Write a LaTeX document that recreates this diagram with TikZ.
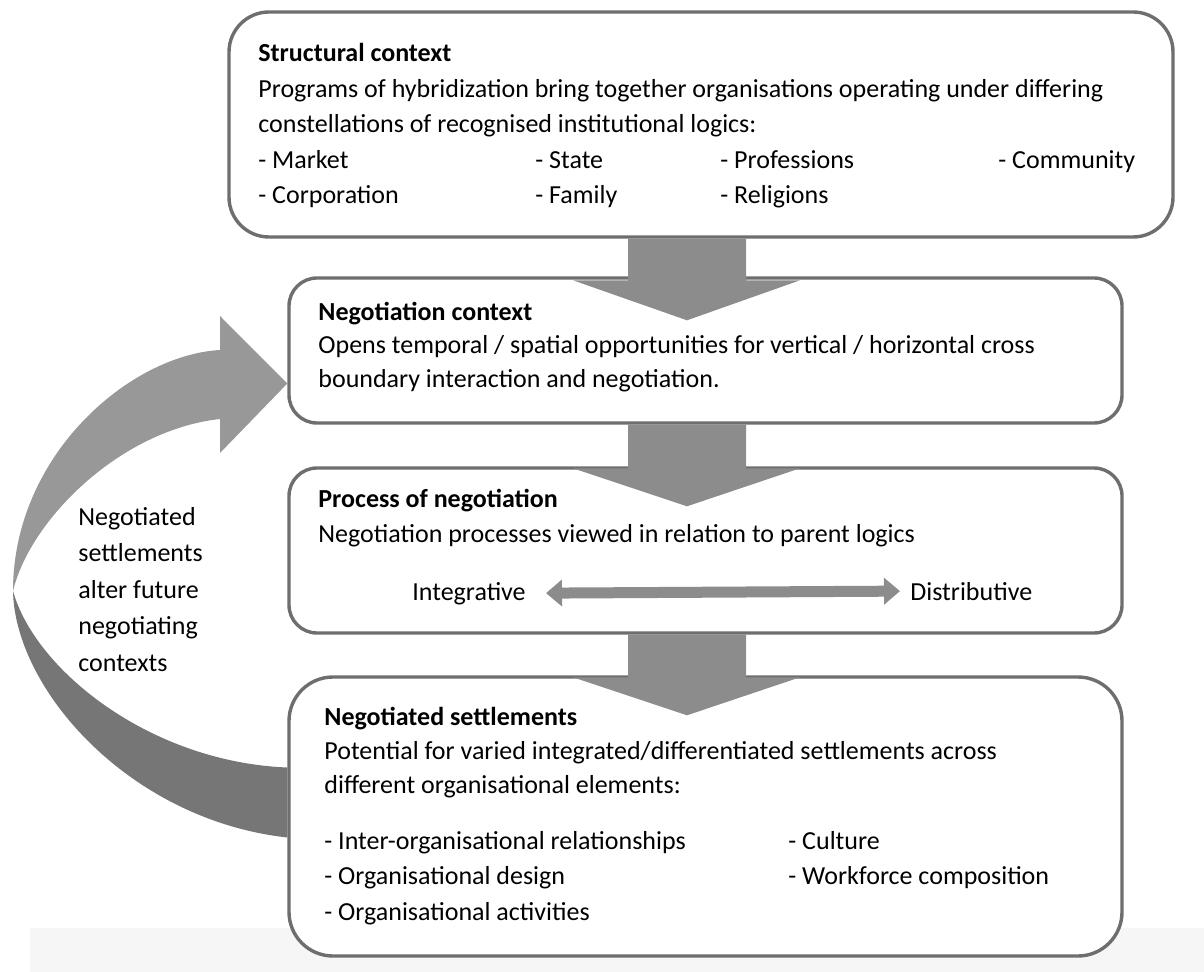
\documentclass[tikz,border=0pt]{standalone}
\usepackage{fontspec}
\setmainfont{Carlito}
\usepackage{xcolor}
\definecolor{boxgray}{RGB}{110,110,110}
\definecolor{arrowgray}{RGB}{140,140,140}
\definecolor{lightribbon}{RGB}{152,152,152}
\definecolor{darkribbon}{RGB}{118,118,118}
\definecolor{shadowgray}{RGB}{246,246,246}
\usetikzlibrary{positioning, calc, arrows.meta}
\tikzstyle{Box} = [
draw=boxgray,
line width=1.7pt,
fill=white,
rounded corners=14pt,
inner sep=0pt]
\tikzstyle{Txt} = [
anchor=base west,
inner sep=0pt,
align=left,
font=\fontsize{13}{17.75}\selectfont]
\tikzstyle{Title} = [Txt, font=\fontsize{13}{17.75}\selectfont\bfseries]
\tikzstyle{BlockArrow} = [fill=arrowgray]
\tikzstyle{ArrowBoth} = [
arrowgray,
line width=5.5pt,
{Triangle[length=8pt, width=13pt]}-{Triangle[length=8pt, width=13pt]}]

\begin{document}
\begin{tikzpicture}[x=0.5pt, y=-0.5pt]
    \useasboundingbox (0,0) rectangle (1204,972);
    \fill[shadowgray] (30,928) rectangle (1204,972);

    \node [Box, rounded corners=20pt, minimum width=472pt, minimum height=112.5pt] (sc) at (701,124.5) {};
    \node [Box, minimum width=416.5pt, minimum height=72.5pt] (nc) at (705.5,350.5) {};
    \node [Box, minimum width=416.5pt, minimum height=82.5pt] (pn) at (705.5,550.5) {};
    \node [Box, rounded corners=22pt, minimum width=416.5pt, minimum height=139.5pt] (ns) at (705.5,816.5) {};

    \coordinate (axis) at (687,0);
    \fill[BlockArrow] ($(sc.south -| axis)+(-59,0)$) -- ($(nc.north -| axis)+(-59,4)$) -- ($(nc.north -| axis)+(-114,4)$)
        -- ($(nc.north -| axis)+(0,44)$) -- ($(nc.north -| axis)+(113,4)$) -- ($(nc.north -| axis)+(59,4)$) -- ($(sc.south -| axis)+(59,0)$) -- cycle;
    \fill[BlockArrow] ($(nc.south -| axis)+(-59,0)$) -- ($(pn.north -| axis)+(-59,2)$) -- ($(pn.north -| axis)+(-114,2)$)
        -- ($(pn.north -| axis)+(0,40)$) -- ($(pn.north -| axis)+(113,2)$) -- ($(pn.north -| axis)+(59,2)$) -- ($(nc.south -| axis)+(59,0)$) -- cycle;
    \fill[BlockArrow] ($(pn.south -| axis)+(-59,0)$) -- ($(ns.north -| axis)+(-59,2)$) -- ($(ns.north -| axis)+(-114,2)$)
        -- ($(ns.north -| axis)+(0,40)$) -- ($(ns.north -| axis)+(113,2)$) -- ($(ns.north -| axis)+(59,2)$) -- ($(pn.south -| axis)+(59,0)$) -- cycle;

    % feedback loop
    \coordinate (loopTip) at ($(nc.west)+(0,33)$);
    \fill[lightribbon] (220,350) .. controls (130,355) and (13,455) .. (13,591)
        .. controls (30,520) and (120,430) .. (220,419) -- (220,453) -- (loopTip) -- (220,316) -- cycle;
    \fill[darkribbon] (13,591) .. controls (15,690) and (130,820) .. ($(ns.west)+(0,21)$)
        -- ($(ns.west)+(0,-49)$) .. controls (150,762) and (35,670) .. (13,591) -- cycle;
    \node [Txt, font=\fontsize{13}{18.25}\selectfont] (loopText) at (78,671) {Negotiated\\settlements\\alter future\\negotiating\\contexts};

    \node [Title] (scTitle) at (258,62) {Structural context};
    \node [Txt] (scBody) at (258,133) {Programs of hybridization bring together organisations operating under differing\\constellations of recognised institutional logics:};
    \node [Txt] (scA) at (258,204) {- Market\\- Corporation};
    \node [Txt] (scB) at (535,204) {- State\\- Family};
    \node [Txt] (scC) at (720,204) {- Professions\\- Religions};
    \node [Txt] (scD) at (998,168.5) {- Community};

    \node [Title] (ncTitle) at (318,321) {Negotiation context};
    \node [Txt, font=\fontsize{13}{16.75}\selectfont] (ncBody) at (318,387.5) {Opens temporal / spatial opportunities for vertical / horizontal cross\\boundary interaction and negotiation.};

    \node [Title] (pnTitle) at (318,508) {Process of negotiation};
    \node [Txt] (pnBody) at (318,543) {Negotiation processes viewed in relation to parent logics};
    \node [Txt] (integr) at (412,600) {Integrative};
    \node [Txt] (distr) at (910,600) {Distributive};
    \draw[ArrowBoth, shorten <=10pt, shorten >=5pt] (integr.east) -- (distr.west);

    \node [Title] (nsTitle) at (324,725) {Negotiated settlements};
    \node [Txt, font=\fontsize{13}{17}\selectfont] (nsBody) at (324,793) {Potential for varied integrated/differentiated settlements across\\different organisational elements:};
    \node [Txt] (nsA) at (324,920) {- Inter-organisational relationships\\- Organisational design\\- Organisational activities};
    \node [Txt] (nsB) at (788,884.5) {- Culture\\- Workforce composition};
\end{tikzpicture}
\end{document}
